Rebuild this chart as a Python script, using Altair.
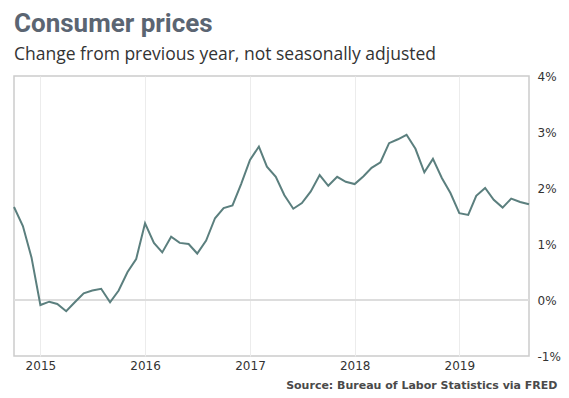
import altair as alt
import pandas as pd

months = pd.date_range("2014-10-01", "2019-09-01", freq="MS").strftime("%Y-%m-%d").tolist()
cpi_yoy = [
    1.66, 1.32, 0.76,
    -0.09, -0.03, -0.07, -0.20, -0.04, 0.12, 0.17, 0.20, -0.04, 0.17, 0.50, 0.73,
    1.37, 1.02, 0.85, 1.13, 1.02, 1.00, 0.83, 1.06, 1.46, 1.64, 1.69, 2.07,
    2.50, 2.74, 2.38, 2.20, 1.87, 1.63, 1.73, 1.94, 2.23, 2.04, 2.20, 2.11,
    2.07, 2.21, 2.36, 2.46, 2.80, 2.87, 2.95, 2.70, 2.28, 2.52, 2.18, 1.91,
    1.55, 1.52, 1.86, 2.00, 1.79, 1.65, 1.81, 1.75, 1.71,
]
y_ticks = [-1, 0, 1, 2, 3, 4]
source_text = "Source: Bureau of Labor Statistics via FRED"

df = pd.DataFrame({"date": months, "value": cpi_yoy})

x_enc = alt.X(
    "date:T",
    scale=alt.Scale(type="utc", domain=["2014-10-01", "2019-09-01"], nice=False),
    axis=alt.Axis(
        format="%Y", tickCount="year", title=source_text,
        titleAnchor="end", titleAlign="right", titleX=543, titleY=23,
        titleFont="DejaVu Sans", titleFontSize=11, titleFontWeight="bold", titleColor="#4a4a4a",
        labelFont="DejaVu Sans", labelFontSize=12, labelColor="#333",
        labelPadding=4, ticks=False, domain=False, gridColor="#ececec",
    ),
)

line = alt.Chart(df).mark_line(color="#5b7f7e", strokeWidth=2).encode(
    x=x_enc,
    y=alt.Y(
        "value:Q",
        scale=alt.Scale(domain=[-1, 4], nice=False),
        axis=alt.Axis(
            orient="right", values=y_ticks, labelExpr="datum.value + '%'", title=None,
            labelFont="DejaVu Sans", labelFontSize=12, labelColor="#333",
            labelPadding=8, ticks=False, domain=False, gridColor="#ececec",
        ),
    ),
)

zero = alt.Chart(df).mark_rule(color="#dddddd", strokeWidth=2).encode(y=alt.datum(0))

chart = (
    alt.layer(zero, line)
    .properties(
        width=553,
        height=382,
        autosize=alt.AutoSizeParams(type="fit", contains="padding"),
        padding={"left": 2, "top": 2, "right": 0, "bottom": 0},
        title=alt.TitleParams(
            text="Consumer prices",
            subtitle="Change from previous year, not seasonally adjusted",
            anchor="start", frame="group",
            font="Roboto", fontSize=26, fontWeight="bold", color="#5b6572",
            subtitleFont="Open Sans", subtitleFontSize=17.5, subtitleColor="#333",
            subtitlePadding=9, offset=7,
        ),
    )
    .configure_view(stroke="#cccccc", strokeWidth=1.5)
)

chart.save("out.html", embed_options={"renderer": "svg", "actions": False})
